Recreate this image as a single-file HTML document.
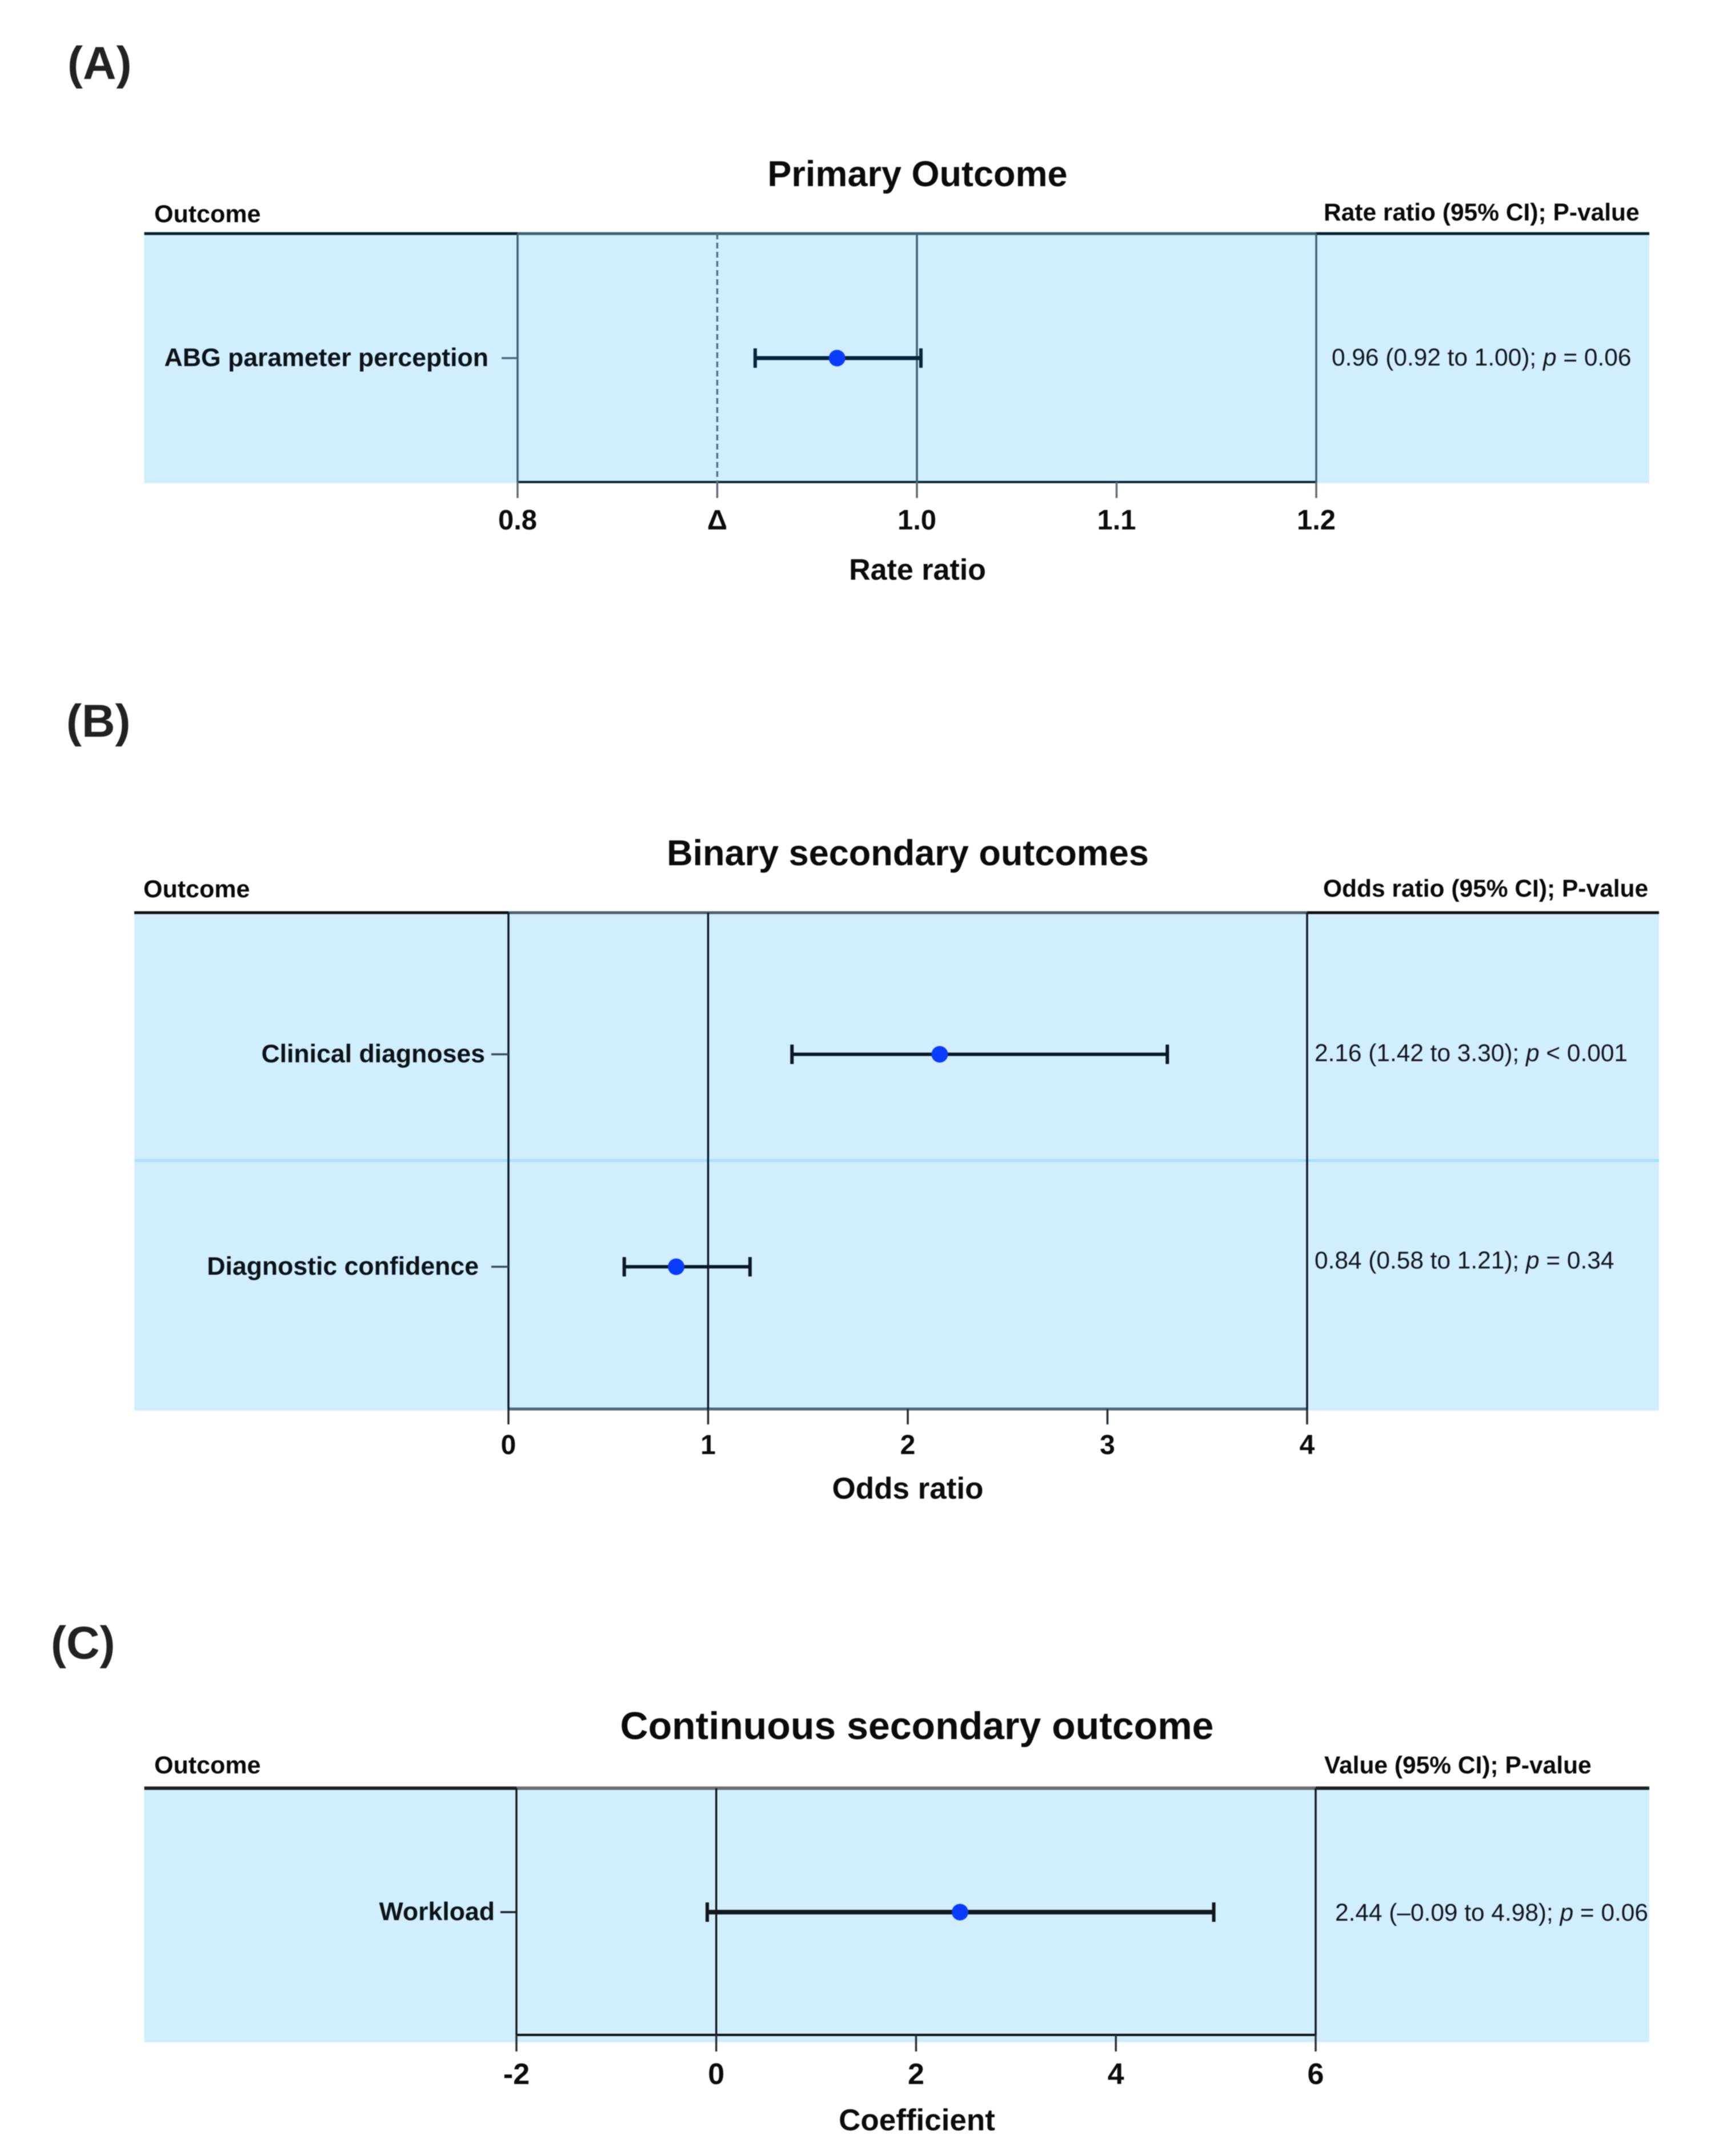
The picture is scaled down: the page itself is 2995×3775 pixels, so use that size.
<!DOCTYPE html>
<html lang="en">
<head>
<meta charset="utf-8">
<title>Forest plots: primary and secondary outcomes</title>
<style>
  html, body { margin: 0; padding: 0; background: #fff; }
  svg { display: block; filter: blur(0.9px); }
  text { font-family: "Liberation Sans", Arial, sans-serif; }
  .bold { font-weight: 700; fill: #0c0c0c; }
  .panel-letter { font-weight: 700; fill: #222; font-size: 81px; }
  .head { font-weight: 700; font-size: 43px; fill: #0a0a0a; }
  .head-right { font-weight: 700; font-size: 42.5px; fill: #0a0a0a; }
</style>
</head>
<body>
<svg id="figure" xmlns="http://www.w3.org/2000/svg" width="2995" height="3775" viewBox="0 0 2995 3775">
  <rect x="0" y="0" width="2995" height="3775" fill="#ffffff"/>

  <g id="panel-a">
    <text class="panel-letter" x="118" y="138">(A)</text>
    <text class="bold" x="1606" y="326" font-size="63" text-anchor="middle">Primary Outcome</text>
    <text class="head" x="270" y="389">Outcome</text>
    <text class="head-right" x="2317" y="386">Rate ratio (95% CI); P-value</text>
    <text class="bold" x="1606" y="1015" font-size="52" text-anchor="middle">Rate ratio</text>
  </g>

  <g id="panel-b">
    <text class="panel-letter" x="116" y="1290">(B)</text>
    <text class="bold" x="1589" y="1515" font-size="63" text-anchor="middle">Binary secondary outcomes</text>
    <text class="head" x="251" y="1571">Outcome</text>
    <text class="head-right" x="2316" y="1570">Odds ratio (95% CI); P-value</text>
    <text class="bold" x="1589" y="2624" font-size="53" text-anchor="middle">Odds ratio</text>
  </g>

  <g id="panel-c">
    <text class="panel-letter" x="89" y="2904">(C)</text>
    <text class="bold" x="1605" y="3045" font-size="68" text-anchor="middle">Continuous secondary outcome</text>
    <text class="head" x="270" y="3105">Outcome</text>
    <text class="head-right" x="2318" y="3105">Value (95% CI); P-value</text>
    <text class="bold" x="1605" y="3730" font-size="53" text-anchor="middle">Coefficient</text>
  </g>
</svg>

<script>
// ---- Panel A data ----
const panelATicks = [0.8, 0.9, 1.0, 1.1, 1.2];
const panelATickLabels = ["0.8", "\u0394", "1.0", "1.1", "1.2"];
const panelACategories = ["ABG parameter perception"];
const panelAEstimates = [0.96];
const panelALower = [0.919];
const panelAUpper = [1.002];
const panelACiLabels = ["0.96 (0.92 to 1.00); "];
const panelAPLabels = [" = 0.06"];

// ---- Panel B data ----
const panelBTicks = [0, 1, 2, 3, 4];
const panelBTickLabels = ["0", "1", "2", "3", "4"];
const panelBCategories = ["Clinical diagnoses", "Diagnostic confidence"];
const panelBEstimates = [2.16, 0.84];
const panelBLower = [1.42, 0.58];
const panelBUpper = [3.30, 1.21];
const panelBCiLabels = ["2.16 (1.42 to 3.30); ", "0.84 (0.58 to 1.21); "];
const panelBPLabels = [" < 0.001", " = 0.34"];

// ---- Panel C data ----
const panelCTicks = [-2, 0, 2, 4, 6];
const panelCTickLabels = ["-2", "0", "2", "4", "6"];
const panelCCategories = ["Workload"];
const panelCEstimates = [2.44];
const panelCLower = [-0.09];
const panelCUpper = [4.98];
const panelCCiLabels = ["2.44 (\u20130.09 to 4.98); "];
const panelCPLabels = [" = 0.06"];

const SVG_NS = "http://www.w3.org/2000/svg";

function mk(tag, attrs, parent) {
  const node = document.createElementNS(SVG_NS, tag);
  for (const key in attrs) node.setAttribute(key, attrs[key]);
  parent.appendChild(node);
  return node;
}

function drawPanel(cfg) {
  const root = document.getElementById(cfg.id);
  const layer = mk("g", {}, root);
  
  
  root.insertBefore(layer, root.firstChild);

  const x = v => cfg.plotLeft + (v - cfg.ticks[0]) / (cfg.ticks[cfg.ticks.length - 1] - cfg.ticks[0]) * (cfg.plotRight - cfg.plotLeft);

  const band = mk("rect", { x: cfg.bandLeft, y: cfg.top, width: cfg.bandRight - cfg.bandLeft, height: cfg.bandBottom - cfg.top, fill: "#d1eeff" }, layer);
  
  

  if (cfg.rowDivider) {
    const divider = mk("line", { x1: cfg.bandLeft, x2: cfg.bandRight, y1: cfg.rowDivider, y2: cfg.rowDivider, stroke: "#a9e0ff", "stroke-width": 5 }, layer);
    
    
  }

  const header = mk("line", { x1: cfg.bandLeft, x2: cfg.bandRight, y1: cfg.top, y2: cfg.top, stroke: cfg.headerOuter, "stroke-width": cfg.headerWidth }, layer);
  
  

  const headerInner = mk("line", { x1: x(cfg.ticks[0]), x2: x(cfg.ticks[cfg.ticks.length - 1]), y1: cfg.top, y2: cfg.top, stroke: cfg.headerInner, "stroke-width": cfg.headerWidth }, layer);
  
  

  const axis = mk("line", { x1: x(cfg.ticks[0]), x2: x(cfg.ticks[cfg.ticks.length - 1]), y1: cfg.axisY, y2: cfg.axisY, stroke: cfg.axisColor, "stroke-width": cfg.axisWidth }, layer);
  
  

  cfg.ticks.forEach((t, i) => {
    const px = x(t);
    const isRefLine = cfg.gridAt.includes(t);
    if (isRefLine) {
      const grid = mk("line", { x1: px, x2: px, y1: cfg.top, y2: cfg.axisY, stroke: cfg.gridColor, "stroke-width": 3.5 }, layer);
      if (cfg.dashedAt === t) {
        grid.setAttribute("stroke-dasharray", "10 6");
        grid.setAttribute("stroke", "#557284");
      }
      
      
    }
    const tick = mk("line", { x1: px, x2: px, y1: cfg.axisY, y2: cfg.tickEnd, stroke: cfg.tickColor, "stroke-width": 3.5 }, layer);
    
    

    const label = mk("text", { x: px, y: cfg.tickLabelY, "text-anchor": "middle", "font-size": cfg.tickFont, "font-weight": 700, fill: "#0c0c0c" }, layer);
    label.textContent = cfg.tickLabels[i];
    
    
  });

  cfg.categories.forEach((name, i) => {
    const y = cfg.rowY[i];

    const yTick = mk("line", { x1: cfg.yTickStart[i], x2: x(cfg.ticks[0]), y1: y, y2: y, stroke: cfg.yTickColor, "stroke-width": 3.5 }, layer);
    
    

    const label = mk("text", { x: cfg.labelEnd[i], y: y + 14, "text-anchor": "end", "font-size": 44.6, "font-weight": 700, fill: "#0c1418" }, layer);
    label.textContent = name;
    
    

    const ci = mk("line", { x1: x(cfg.lower[i]), x2: x(cfg.upper[i]), y1: y, y2: y, stroke: cfg.ciColor, "stroke-width": cfg.ciWidth }, layer);
    
    

    const capLow = mk("line", { x1: x(cfg.lower[i]), x2: x(cfg.lower[i]), y1: y - 17, y2: y + 17, stroke: cfg.ciColor, "stroke-width": 6 }, layer);
    
    

    const capHigh = mk("line", { x1: x(cfg.upper[i]), x2: x(cfg.upper[i]), y1: y - 17, y2: y + 17, stroke: cfg.ciColor, "stroke-width": 6 }, layer);
    
    

    const dot = mk("circle", { cx: x(cfg.estimates[i]), cy: y, r: 14.5, fill: "#0a3cff" }, layer);
    
    

    const value = mk("text", { x: cfg.valueX, y: cfg.valueY[i], "font-size": 42.4, fill: "#14181c" }, layer);
    
    
    const ciPart = mk("tspan", {}, value);
    ciPart.textContent = cfg.ciLabels[i];
    const pLetter = mk("tspan", { "font-style": "italic" }, value);
    pLetter.textContent = "p";
    const pPart = mk("tspan", {}, value);
    pPart.textContent = cfg.pLabels[i];
  });
}

drawPanel({
  id: "panel-a", ticks: panelATicks, tickLabels: panelATickLabels, categories: panelACategories,
  estimates: panelAEstimates, lower: panelALower, upper: panelAUpper, ciLabels: panelACiLabels, pLabels: panelAPLabels,
  plotLeft: 906, plotRight: 2304, bandLeft: 252.5, bandRight: 2887, top: 409, bandBottom: 846, axisY: 844, tickEnd: 872,
  tickLabelY: 927, tickFont: 49, rowY: [627], labelEnd: [855], yTickStart: [878], valueX: 2331, valueY: [640],
  headerOuter: "#06202f", headerInner: "#3d6276", headerWidth: 5, axisColor: "#06263c", axisWidth: 4, ciWidth: 7,
  gridAt: [0.8, 0.9, 1.0, 1.2], dashedAt: 0.9, gridColor: "#3f5f73", tickColor: "#606a70", yTickColor: "#4a6a7c", ciColor: "#06263c"
});

drawPanel({
  id: "panel-b", ticks: panelBTicks, tickLabels: panelBTickLabels, categories: panelBCategories,
  estimates: panelBEstimates, lower: panelBLower, upper: panelBUpper, ciLabels: panelBCiLabels, pLabels: panelBPLabels,
  plotLeft: 890, plotRight: 2288, bandLeft: 235, bandRight: 2904, top: 1598, bandBottom: 2470, axisY: 2467, tickEnd: 2494,
  tickLabelY: 2546, tickFont: 48, rowY: [1846, 2218], labelEnd: [849, 838], yTickStart: [860, 860], valueX: 2301, valueY: [1858, 2221],
  rowDivider: 2032,
  headerOuter: "#111111", headerInner: "#50606a", headerWidth: 5, axisColor: "#50697a", axisWidth: 5, ciWidth: 6,
  gridAt: [0, 1, 4], gridColor: "#0a1a24", tickColor: "#222a30", yTickColor: "#3a4a54", ciColor: "#0a1a24"
});

drawPanel({
  id: "panel-c", ticks: panelCTicks, tickLabels: panelCTickLabels, categories: panelCCategories,
  estimates: panelCEstimates, lower: panelCLower, upper: panelCUpper, ciLabels: panelCCiLabels, pLabels: panelCPLabels,
  plotLeft: 904, plotRight: 2303, bandLeft: 252.5, bandRight: 2887, top: 3131, bandBottom: 3576, axisY: 3563, tickEnd: 3592,
  tickLabelY: 3649, tickFont: 52, rowY: [3348], labelEnd: [866], yTickStart: [876], valueX: 2337, valueY: [3363],
  headerOuter: "#222222", headerInner: "#6a6f72", headerWidth: 6, axisColor: "#0a0f12", axisWidth: 4, ciWidth: 8,
  gridAt: [-2, 0, 6], gridColor: "#14191c", tickColor: "#2a2f32", yTickColor: "#1a1f22", ciColor: "#12181c"
});
</script>
</body>
</html>
